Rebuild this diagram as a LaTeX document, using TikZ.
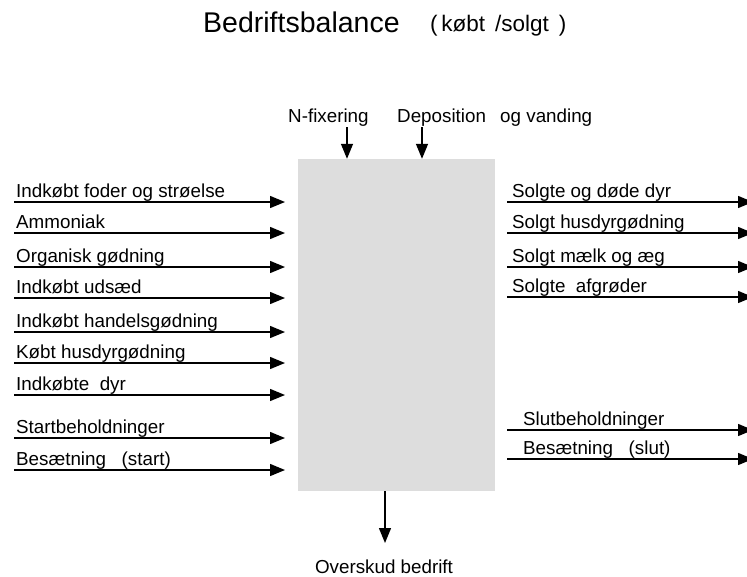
\documentclass[tikz,border=0pt]{standalone}
\usepackage{fontspec}
\setmainfont{Liberation Sans}
\usetikzlibrary{arrows.meta}
\definecolor{boxgray}{RGB}{221,221,221}
\begin{document}
\begin{tikzpicture}[x=1pt,y=-1pt,
      lbl/.style={anchor=base west,inner sep=0pt,font=\fontsize{18.8}{21}\selectfont},
      flow/.style={line width=1.4pt,-{Triangle[length=15pt,width=12pt]}},
      farmbox/.style={fill=boxgray,minimum width=197pt,minimum height=332pt,inner sep=0pt},
      ]
        \useasboundingbox (0,0) rectangle (747,576);

        % title
        \node [lbl,font=\fontsize{28.5}{31}\selectfont] (title) at (203,32) {Bedriftsbalance};
        \node [lbl,font=\fontsize{22.5}{25}\selectfont] (subtitle) at (430,31)
          {(\,købt\ \,/solgt\ \,)};

        \node [farmbox] (farm) at (396.5,325) {};

        % inputs
        \foreach \yy/\txt [count=\n] in {202/Indkøbt foder og strøelse,
            233/Ammoniak, 267/Organisk gødning, 298/Indkøbt udsæd,
            332/Indkøbt handelsgødning, 363/Købt husdyrgødning,
            395/Indkøbte\ \ dyr, 438/Startbeholdninger,
            470/Besætning\ \ \ (start)}
          {
            \node [lbl] (inlbl\n) at (16,\yy-4.5) {\txt};
            \coordinate (inA\n) at (14,\yy);
            \coordinate (inB\n) at (285,\yy);
            \draw [flow] (inA\n) -- (inB\n);
          }

        % outputs
        \foreach \yy/\xx/\txt [count=\n] in {202/512/Solgte og døde dyr,
            233/512/Solgt husdyrgødning, 267/512/Solgt mælk og æg,
            297/512/Solgte\ \ afgrøder, 430/523/Slutbeholdninger,
            459/523/Besætning\ \ \ (slut)}
          {
            \node [lbl] (outlbl\n) at (\xx,\yy-5) {\txt};
            \coordinate (outA\n) at (507,\yy);
            \coordinate (outB\n) at (753,\yy);
            \draw [flow] (outA\n) -- (outB\n);
          }

        % from above
        \node [lbl] (nfixlbl) at (288,122) {N-fixering};
        \node [lbl] (deplbl) at (397,122) {Deposition\hspace{9pt} og vanding};
        \coordinate (nfix) at (347,127);
        \coordinate (dep) at (422,127);
        \draw [flow] (nfix) -- (nfix |- farm.north);
        \draw [flow] (dep) -- (dep |- farm.north);

        % surplus
        \coordinate (surplus) at (385,491);
        \coordinate (surplusB) at (385,543);
        \draw [flow] (surplus) -- (surplusB);
        \node [lbl,anchor=base] (surpluslbl) at (384,573) {Overskud bedrift};
      \end{tikzpicture}
\end{document}
